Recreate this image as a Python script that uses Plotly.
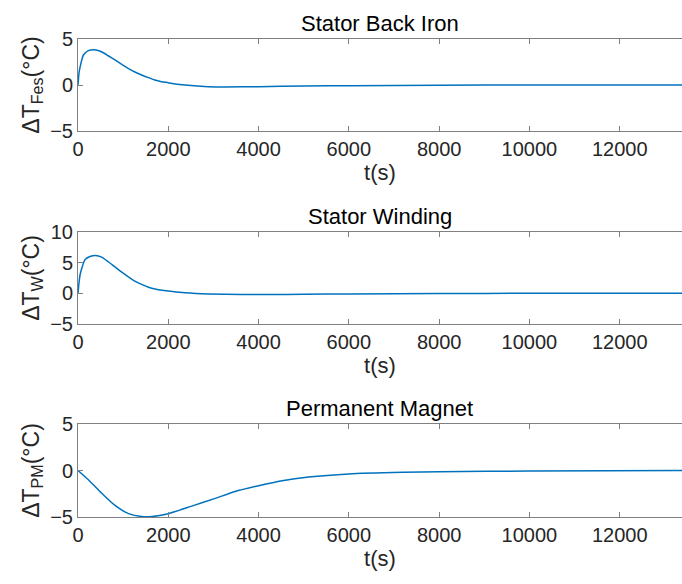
import plotly.graph_objects as go

# ---- data ----
t_fes = [0, 22, 44, 120, 230, 360, 520, 670, 820, 970, 1110, 1260, 1410, 1560, 1700, 1850, 2000, 2150, 2370, 2890, 3250, 4000, 5000, 6000, 8000, 10000, 13400]
v_fes = [0, 1.3, 1.9, 3.26, 3.73, 3.84, 3.62, 3.18, 2.72, 2.25, 1.81, 1.41, 1.09, 0.8, 0.54, 0.36, 0.25, 0.12, 0.0, -0.18, -0.22, -0.18, -0.12, -0.07, -0.02, 0.0, 0.0]

t_w = [0, 22, 44, 81, 155, 266, 391, 524, 670, 819, 970, 1115, 1260, 1410, 1560, 1705, 2000, 2370, 2890, 3620, 4210, 5000, 6000, 8000, 10000, 13400]
v_w = [0, 1.7, 2.95, 4.0, 5.5, 6.0, 6.18, 5.9, 5.15, 4.3, 3.45, 2.7, 2.0, 1.45, 1.0, 0.7, 0.37, 0.1, -0.1, -0.2, -0.2, -0.15, -0.1, -0.03, 0.0, 0.0]

t_pm = [0, 230, 525, 820, 1120, 1410, 1640, 2000, 2520, 3040, 3480, 4000, 4520, 5110, 6000, 7200, 8000, 10000, 13400]
v_pm = [0, -0.99, -2.45, -3.76, -4.64, -4.95, -4.95, -4.64, -3.83, -3.0, -2.26, -1.64, -1.1, -0.7, -0.37, -0.2, -0.14, -0.05, 0.0]

titles = ["Stator Back Iron", "Stator Winding", "Permanent Magnet"]
ylabels = ["ΔT<sub>Fes</sub>(°C)", "ΔT<sub>W</sub>(°C)", "ΔT<sub>PM</sub>(°C)"]
y_ranges = [[-5, 5], [-5, 10], [-5, 5]]
y_ticks = [[-5, 0, 5], [-5, 0, 5, 10], [-5, 0, 5]]
x_ticks = [0, 2000, 4000, 6000, 8000, 10000, 12000]
x_ticklabels = ["0", "2000", "4000", "6000", "8000", "10000", "12000"]
x_range = [0, 13380]

series = [(t_fes, v_fes), (t_w, v_w), (t_pm, v_pm)]

W, H = 682, 584
left_px = 78
tops_px = [39, 232, 424]
bots_px = [131, 324, 517]

FONT = "Liberation Sans, Arial, sans-serif"
LINE_C = "#808080"
TXT_C = "#262626"

fig = go.Figure()
layout = dict(
    width=W, height=H,
    margin=dict(l=0, r=0, t=0, b=0, autoexpand=False),
    paper_bgcolor="white", plot_bgcolor="white",
    showlegend=False,
    font=dict(family=FONT, color=TXT_C, size=20),
)
annotations = []
for i, ((tx, vy), title, ylab, yr, yt) in enumerate(zip(series, titles, ylabels, y_ranges, y_ticks)):
    n = "" if i == 0 else str(i + 1)
    fig.add_trace(go.Scatter(
        x=tx, y=vy, mode="lines",
        line=dict(color="#0072BD", width=1.5, shape="spline", smoothing=0.6),
        xaxis="x" + n, yaxis="y" + n, hoverinfo="skip",
    ))
    ydom = [(H - bots_px[i]) / H, (H - tops_px[i]) / H]
    layout["xaxis" + n] = dict(
        domain=[left_px / W, 1], range=x_range, anchor="y" + n,
        tickvals=x_ticks, ticktext=x_ticklabels,
        ticks="inside", ticklen=5, tickcolor=LINE_C,
        showline=True, linecolor=LINE_C, linewidth=1, mirror="allticks",
        showgrid=False, zeroline=False, automargin=False,
        tickfont=dict(size=20, color=TXT_C, family=FONT),
        title=dict(text="t(s)", font=dict(size=22, color=TXT_C, family=FONT), standoff=2),
    )
    layout["yaxis" + n] = dict(
        domain=ydom, range=yr, anchor="x" + n,
        tickvals=yt, ticks="inside", ticklen=5, tickcolor=LINE_C,
        showline=True, linecolor=LINE_C, linewidth=1, mirror=False,
        showgrid=False, zeroline=False, automargin=False,
        tickfont=dict(size=20, color=TXT_C, family=FONT),
        title=dict(text=ylab, font=dict(size=23, color=TXT_C, family=FONT), standoff=4),
    )
    annotations.append(dict(
        text=title, xref="paper", yref="paper",
        x=(left_px + W) / 2 / W, y=ydom[1], xanchor="center", yanchor="bottom",
        yshift=1, showarrow=False,
        font=dict(size=22, color="#000000", family=FONT),
    ))
layout["annotations"] = annotations
fig.update_layout(**layout)
fig.write_html("out.html")
